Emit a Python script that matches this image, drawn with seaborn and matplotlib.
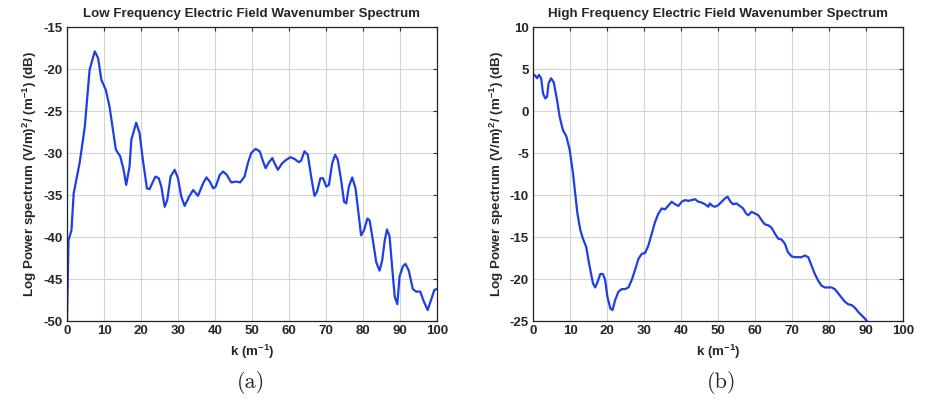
import numpy as np
import pandas as pd
import seaborn as sns
import matplotlib
matplotlib.use('Agg')
import matplotlib.pyplot as plt

# low frequency spectrum
k_low = [0, 0.4, 1.2, 1.8, 3.4, 4.8, 6.1, 7.5, 8.4, 9.3, 10.5, 11.5, 13.2, 14.4, 15.3, 16.0,
         16.9, 17.4, 18.7, 19.6, 20.5, 21.6, 22.3, 23.9, 24.8, 25.5, 26.4, 27.1, 28.0, 29.1,
         30.0, 30.9, 31.8, 33.0, 34.1, 35.4, 36.8, 37.7, 38.6, 39.5, 40.2, 41.3, 42.2, 43.2,
         44.4, 45.8, 46.8, 48.0, 48.9, 49.8, 51.0, 52.1, 53.0, 53.7, 54.6, 55.5, 56.1, 57.0,
         58.2, 59.3, 60.4, 61.5, 62.7, 63.3, 64.2, 65.1, 66.0, 66.9, 67.6, 68.5, 69.2, 70.1,
         70.8, 71.7, 72.5, 73.2, 74.1, 74.9, 75.5, 76.2, 77.1, 78.0, 78.6, 79.5, 80.3, 81.2,
         81.8, 82.7, 83.6, 84.5, 85.2, 85.9, 86.5, 87.2, 87.9, 88.6, 89.3, 89.9, 90.8, 91.5,
         92.4, 93.5, 94.4, 95.5, 96.4, 97.5, 98.5, 99.3, 100]
p_low = [-50, -40.4, -39.2, -34.8, -31.2, -26.9, -20.1, -17.9, -18.7, -21.3, -22.5, -24.5,
         -29.6, -30.4, -32.0, -33.8, -31.6, -28.4, -26.4, -27.6, -30.8, -34.2, -34.3, -32.8,
         -33.0, -34.0, -36.4, -35.6, -32.8, -32.0, -33.0, -35.2, -36.3, -35.2, -34.4, -35.1,
         -33.6, -32.9, -33.4, -34.2, -34.0, -32.6, -32.2, -32.6, -33.5, -33.4, -33.5, -32.8,
         -31.2, -30.0, -29.5, -29.8, -31.0, -31.8, -31.1, -30.6, -31.2, -32.0, -31.2, -30.8,
         -30.5, -30.7, -31.1, -30.9, -29.8, -30.2, -32.8, -35.1, -34.6, -33.0, -33.0, -34.0,
         -33.8, -31.2, -30.2, -30.8, -33.2, -35.8, -36.0, -34.0, -32.9, -34.2, -36.4, -39.8,
         -39.2, -37.8, -38.0, -40.4, -43.0, -44.0, -42.8, -40.4, -39.1, -39.9, -43.6, -47.1,
         -48.0, -44.7, -43.5, -43.2, -44.0, -46.2, -46.5, -46.5, -47.6, -48.7, -47.4, -46.3,
         -46.2]

# high frequency spectrum
k_high = [0, 0.6, 1.1, 1.6, 2.2, 2.7, 3.3, 3.8, 4.2, 4.9, 5.6, 6.5, 7.2, 8.1, 9.0, 9.9, 10.8,
          11.4, 12.0, 12.8, 13.5, 14.4, 15.0, 15.7, 16.2, 16.8, 17.4, 18.2, 18.9, 19.5, 20.1,
          20.9, 21.5, 22.2, 23.1, 24.0, 24.9, 25.8, 26.7, 27.6, 28.5, 29.4, 30.3, 31.2, 32.1,
          33.0, 33.9, 34.8, 35.7, 36.5, 37.5, 38.4, 39.3, 40.2, 41.1, 42.0, 42.9, 43.8, 44.7,
          45.6, 46.5, 47.4, 47.8, 48.5, 49.2, 50.1, 51.0, 51.9, 52.6, 53.4, 54.1, 55.0, 55.9,
          56.8, 57.6, 58.2, 59.1, 60.0, 60.9, 61.8, 62.7, 63.6, 64.5, 65.4, 66.3, 67.2, 68.1,
          68.9, 69.9, 70.8, 71.7, 72.6, 73.5, 74.4, 75.3, 76.2, 77.1, 78.0, 78.9, 79.8, 80.7,
          81.6, 82.5, 83.4, 84.3, 85.2, 86.1, 87.0, 87.9, 88.8, 89.7, 90.3]
p_high = [4.4, 4.2, 3.9, 4.3, 3.9, 2.1, 1.5, 1.7, 3.3, 3.9, 3.4, 1.3, -0.7, -2.3, -3.0, -4.6,
          -7.4, -9.8, -12.2, -14.2, -15.2, -16.2, -17.8, -19.4, -20.5, -21.0, -20.4, -19.4,
          -19.4, -20.1, -22.1, -23.5, -23.7, -22.5, -21.5, -21.2, -21.2, -21.0, -20.1, -18.9,
          -17.6, -17.0, -16.9, -16.0, -14.6, -13.2, -12.2, -11.6, -11.7, -11.3, -10.8, -11.1,
          -11.3, -10.8, -10.6, -10.7, -10.6, -10.5, -10.8, -10.9, -11.1, -11.4, -11.0, -11.3,
          -11.4, -11.2, -10.8, -10.4, -10.2, -10.8, -11.1, -11.0, -11.3, -11.6, -12.2, -12.4,
          -12.0, -12.2, -12.4, -13.0, -13.5, -13.6, -13.9, -14.6, -15.2, -15.3, -15.8, -16.8,
          -17.3, -17.4, -17.4, -17.4, -17.2, -17.4, -18.4, -19.4, -20.2, -20.8, -21.0, -21.0,
          -21.0, -21.2, -21.7, -22.2, -22.7, -23.0, -23.1, -23.4, -23.9, -24.3, -24.7, -25.0]

titles = ['Low Frequency Electric Field Wavenumber Spectrum',
          'High Frequency Electric Field Wavenumber Spectrum']
captions = ['(a)', '(b)']
ylims = [(-50, -15), (-25, 10)]

sns.set_style('white')
plt.rcParams['font.family'] = ['Liberation Sans', 'DejaVu Sans']
plt.rcParams['font.weight'] = 'bold'
plt.rcParams['axes.unicode_minus'] = False
plt.rcParams['mathtext.fontset'] = 'custom'
plt.rcParams['mathtext.bf'] = 'Liberation Sans:bold'
plt.rcParams['mathtext.rm'] = 'Liberation Sans:bold'
plt.rcParams['mathtext.default'] = 'bf'

fig = plt.figure(figsize=(9.27, 4.04), dpi=100)
ax1 = fig.add_axes([0.0723, 0.2054, 0.399, 0.7277])
ax2 = fig.add_axes([0.575, 0.2054, 0.399, 0.7277])

dfs = [pd.DataFrame({'k': k_low, 'p': p_low}), pd.DataFrame({'k': k_high, 'p': p_high})]

for i, ax in enumerate([ax1, ax2]):
    sns.lineplot(data=dfs[i], x='k', y='p', ax=ax, color='#1f3fe6', linewidth=1.6,
                 estimator=None, sort=False)
    ax.set_xlim(0, 100)
    ax.set_ylim(*ylims[i])
    ax.set_xticks(np.arange(0, 101, 10))
    ax.set_yticks(np.arange(ylims[i][0], ylims[i][1] + 1, 5))
    ax.grid(True, color='#d4d4d4', linewidth=0.8)
    ax.tick_params(direction='in', top=True, right=True, length=3, width=0.8,
                   labelsize=9.5, pad=3, color='#333333')
    for lab in ax.get_xticklabels() + ax.get_yticklabels():
        lab.set_fontweight('bold')
    for s in ax.spines.values():
        s.set_color('#222222')
        s.set_linewidth(0.9)
    ax.set_title(titles[i], fontsize=9.6, fontweight='bold', pad=7)
    ax.set_xlabel('k (m$^{-1}$)', fontsize=9.6, fontweight='bold', labelpad=4)
    ax.set_ylabel('Log Power spectrum (V/m)$^{2}$/ (m$^{-1}$) (dB)', fontsize=9.6,
                  fontweight='bold', labelpad=3)

fig.text(251 / 927, 1 - 383 / 404, captions[0], family='cmr10', fontsize=16,
         ha='center', va='center')
fig.text(722 / 927, 1 - 383 / 404, captions[1], family='cmr10', fontsize=16,
         ha='center', va='center')

fig.savefig('out.png', dpi=100)
